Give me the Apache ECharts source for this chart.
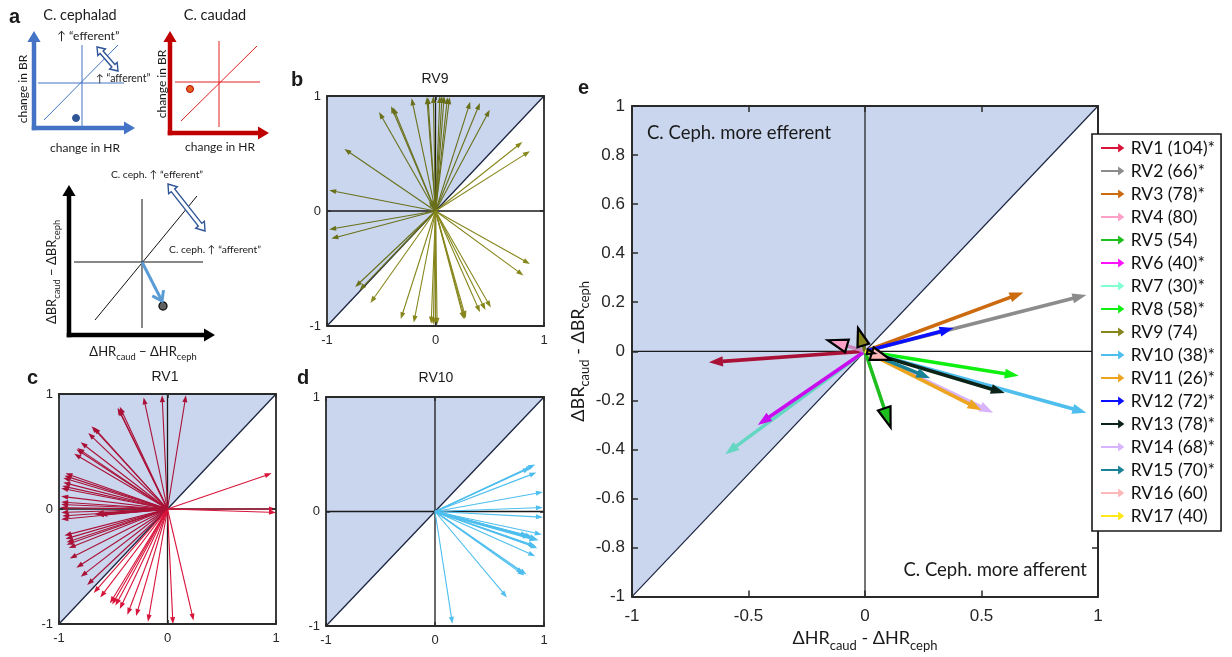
<!DOCTYPE html>
<html><head><meta charset="utf-8">
<script src="https://cdn.jsdelivr.net/npm/echarts@6/dist/echarts.min.js"></script>
<style>html,body{margin:0;padding:0;background:#fff}#c{width:1232px;height:657px}</style>
</head><body><div id="c"></div>
<script>
// ---------------- DATA ----------------
const rvNames = ['RV1 (104)*','RV2 (66)*','RV3 (78)*','RV4 (80)','RV5 (54)','RV6 (40)*','RV7 (30)*','RV8 (58)*','RV9 (74)','RV10 (38)*','RV11 (26)*','RV12 (72)*','RV13 (78)*','RV14 (68)*','RV15 (70)*','RV16 (60)','RV17 (40)'];
const rvMeanX = [-0.67, 0.95, 0.68, -0.16, 0.11, -0.46, -0.60, 0.66, -0.03, 0.95, 0.50, 0.38, 0.60, 0.55, 0.28, 0.11, 0.04];
const rvMeanY = [-0.045, 0.23, 0.24, 0.045, -0.31, -0.30, -0.42, -0.10, 0.095, -0.25, -0.24, 0.095, -0.17, -0.25, -0.11, -0.035, -0.008];
const rvSignificant = [1,1,1,0,0,1,1,1,0,1,1,1,1,1,1,0,0];

// individual trials (panel b: RV9, c: RV1, d: RV10)
const rv9Tips = [
 [-0.22,0.98],[-0.08,0.99],[-0.07,0.99],[-0.02,1.0],[0.04,1.0],[0.06,1.0],[0.08,1.0],[0.11,0.99],[0.13,0.99],
 [-0.41,0.91],[-0.39,0.90],[-0.52,0.86],[0.32,0.95],[0.41,0.94],[0.50,0.88],
 [-0.84,0.54],[-0.98,0.18],[0.80,0.60],[0.87,0.52],[-0.06,0.08],[-0.04,0.06],
 [-0.98,-0.16],[-0.96,-0.24],[-0.74,-0.66],[-0.70,-0.69],[-0.60,-0.80],
 [-0.32,-0.94],[-0.20,-0.97],[-0.04,-0.98],[-0.02,-0.99],[0.0,-0.99],[0.015,-0.99],
 [0.26,-0.94],[0.27,-0.94],[0.28,-0.93],[0.41,-0.88],[0.46,-0.86],[0.51,-0.84],
 [0.87,-0.46],[0.81,-0.56]
];
const rv1Tips = [
 [-0.22,0.97],[-0.05,0.99],[0.17,0.99],[-0.46,0.88],[-0.44,0.89],[-0.45,0.87],
 [-0.70,0.72],[-0.68,0.71],[-0.73,0.66],[-0.80,0.58],[-0.84,0.52],[-0.83,0.53],[-0.86,0.48],
 [-0.94,0.31],[-0.95,0.29],[-0.96,0.27],[-0.96,0.23],[-0.97,0.20],[-0.98,0.18],[-0.98,0.11],[-0.98,0.06],[-0.98,0.04],
 [-0.99,0.01],[-0.98,-0.03],[-0.97,-0.06],[-0.98,-0.09],[-0.62,-0.05],
 [-0.95,-0.23],[-0.94,-0.26],[-0.93,-0.31],[-0.93,-0.29],[-0.91,-0.34],[-0.90,-0.43],
 [-0.84,-0.51],[-0.80,-0.59],[-0.74,-0.66],[-0.68,-0.73],[-0.62,-0.77],
 [-0.53,-0.82],[-0.51,-0.83],[-0.48,-0.84],[-0.44,-0.87],[-0.37,-0.92],[-0.29,-0.93],[-0.18,-0.98],
 [0.05,-1.0],[0.24,-0.97],[0.96,0.31],[1.0,0.0],[1.0,-0.03]
];
const rv10Tips = [
 [0.92,0.41],[0.93,0.34],[0.87,0.38],[0.90,0.40],[0.99,0.17],[0.99,0.035],[0.99,-0.05],
 [0.98,-0.20],[0.89,-0.22],[0.87,-0.23],[0.85,-0.21],[0.93,-0.31],[0.94,-0.32],[0.92,-0.30],[0.92,-0.39],
 [0.84,-0.55],[0.81,-0.54],[0.82,-0.56],[0.66,-0.75],[0.16,-0.98]
];

// reference geometry of every panel (data space)
const shadeX = [-1,-1,1];
const shadeY = [-1,1,1];
const refLines = [[-1,0,1,0],[0,-1,0,1],[-1,-1,1,1]];

// schematic (panel a), in schematic units
const cephAxes = [[34,128,34,31],[34,128,135,128]];
const caudAxes = [[170,133,170,31],[170,133,269,133]];
const diffAxes = [[69,335,69,185],[69,335,215,335]];
const cephLines = [[82,45,82,127],[38,83,124,83],[44,120,118,45]];
const caudLines = [[219,41,219,127],[175,82,260,82],[181,121,257,46]];
const diffLines = [[142,199,142,328],[74,262,203,262],[95,320,197,196]];
const cephDot = [[76,118]];
const caudDot = [[190,89]];
const diffDot = [[163,306]];
const cephDouble = [[97,47,118,71]];
const diffDouble = [[168,184,205,231]];
const diffArrow = [[142,262,162,301]];

// ---------------- STYLE ----------------
const rvColors = ['#D8143A','#8C8C8C','#CC6A10','#FFA0C8','#1EBE1E','#FF10FF','#80FFD0','#10F010','#86861C','#4DBEEE','#EDA520','#0A10FF','#0C2418','#D8B4FF','#1A8296','#FFB8B8','#FFE81A'];
const drawOrder = [0,6,5,1,2,11,7,9,13,10,12,14,3,8,4,15,16];
const FRAME = '#2a2a2a';
const SHADE = '#C9D6EE';
const ARIAL = '"Liberation Sans", Arial, sans-serif';
const CAL = 'Lato, "Noto Sans", "DejaVu Sans", sans-serif';

function mulHex(c1,c2){const a=parseInt(c1.slice(1),16), b=parseInt(c2.slice(1),16);
  const ch=s=>Math.round(((a>>s)&255)*((b>>s)&255)/255);
  return 'rgb('+ch(16)+','+ch(8)+','+ch(0)+')';}
function geom(p0,p1){const dx=p1[0]-p0[0],dy=p1[1]-p0[1],L=Math.hypot(dx,dy)||1e-6;return {L,ux:dx/L,uy:dy/L,nx:-dy/L,ny:dx/L};}
function arrowShapes(p0,p1,o){
  const g=geom(p0,p1);
  const h=Math.min(o.head,g.L*(o.frac||1)), w=h*o.hw;
  const bx=p1[0]-g.ux*h, by=p1[1]-g.uy*h;
  const lc=o.lineColor||o.color;
  const ch=[];
  if(o.open){
    ch.push({type:'line',shape:{x1:p0[0],y1:p0[1],x2:p1[0],y2:p1[1]},style:{stroke:lc,lineWidth:o.lw,lineCap:'butt'}});
    ch.push({type:'polyline',shape:{points:[[bx+g.nx*w,by+g.ny*w],[p1[0],p1[1]],[bx-g.nx*w,by-g.ny*w]]},style:{stroke:o.color,lineWidth:o.lw,fill:null,lineJoin:'miter'}});
  } else {
    ch.push({type:'line',shape:{x1:p0[0],y1:p0[1],x2:bx+g.ux*0.6,y2:by+g.uy*0.6},style:{stroke:lc,lineWidth:o.lw,lineCap:o.cap||'butt'}});
    ch.push({type:'polygon',shape:{points:[[p1[0],p1[1]],[bx+g.nx*w,by+g.ny*w],[bx-g.nx*w,by-g.ny*w]]},
      style:o.outline?{fill:o.color,stroke:o.outline,lineWidth:o.outlineW,lineJoin:'miter'}:{fill:o.color}});
  }
  return {type:'group',children:ch};
}
// colour of an arrow drawn over the shaded half-plane (y > x) is multiplied with the shade
const tint = (col,vx,vy)=> vy>vx ? mulHex(col,SHADE) : col;

const C = echarts.init(document.getElementById('c'));

const grids = [
  {left:632, top:106, width:466, height:491},
  {left:327, top:96, width:217, height:230},
  {left:59, top:394, width:217, height:230},
  {left:326, top:397, width:218, height:229},
  {left:0, top:0, width:290, height:360}
];

const xAxis=[], yAxis=[];
const nameRich = {a:{fontSize:18,lineHeight:27,fontFamily:CAL,color:'#1a1a1a'},s:{fontSize:13,lineHeight:13,verticalAlign:'bottom',fontFamily:CAL,color:'#1a1a1a'}};
for(let g=0; g<4; g++){
  const big = g===0;
  const line = {show:true,onZero:false,lineStyle:{color:FRAME,width:big?2:1.8}};
  const tick = {show:true,inside:true,length:big?6:4,lineStyle:{color:FRAME,width:1.5}};
  const lab = {fontSize:big?17:13,color:'#262626',fontFamily:ARIAL};
  xAxis.push({gridIndex:g,type:'value',min:-1,max:1,interval:big?0.5:1,position:'bottom',z:5,axisLine:line,axisTick:tick,splitLine:{show:false},
    axisLabel:Object.assign({margin:big?11:8,formatter:v=>String(Math.round(v*10)/10)},lab),
    name: big?'{a|ΔHR}{s|caud}{a| - ΔHR}{s|ceph}':'', nameLocation:'middle', nameGap:22, nameTextStyle:{rich:nameRich}});
  xAxis.push({gridIndex:g,type:'value',min:-1,max:1,interval:big?0.5:1,position:'top',z:5,axisLine:line,axisTick:tick,splitLine:{show:false},axisLabel:{show:false}});
  yAxis.push({gridIndex:g,type:'value',min:-1,max:1,interval:big?0.2:1,position:'left',z:5,axisLine:line,axisTick:tick,splitLine:{show:false},
    axisLabel:Object.assign({margin:big?7:6,formatter:v=>String(Math.round(v*10)/10)},lab),
    name: big?'{a|ΔBR}{s|caud}{a| - ΔBR}{s|ceph}':'', nameLocation:'middle', nameGap:39, nameRotate:90, nameTextStyle:{rich:nameRich}});
  yAxis.push({gridIndex:g,type:'value',min:-1,max:1,interval:big?0.2:1,position:'right',z:5,axisLine:line,axisTick:tick,splitLine:{show:false},axisLabel:{show:false}});
}
xAxis.push({gridIndex:4,type:'value',min:0,max:290,show:false});
yAxis.push({gridIndex:4,type:'value',min:0,max:360,inverse:true,show:false});

const series=[];
// backgrounds + reference lines
for(let g=0; g<4; g++){
  series.push({type:'custom',name:'shade'+g,xAxisIndex:2*g,yAxisIndex:2*g,silent:true,z:1,data:[[0]],
    renderItem:(p,api)=>({type:'polygon',shape:{points:shadeX.map((x,i)=>api.coord([x,shadeY[i]]))},style:{fill:SHADE}})});
  series.push({type:'custom',name:'ref'+g,xAxisIndex:2*g,yAxisIndex:2*g,silent:true,z:1,data:refLines,
    renderItem:(p,api)=>{const a=api.coord([api.value(0),api.value(1)]),b=api.coord([api.value(2),api.value(3)]);
      return {type:'line',shape:{x1:a[0],y1:a[1],x2:b[0],y2:b[1]},style:{stroke:p.dataIndex===2?'#1c2540':'#1a1a1a',lineWidth:g===0?1.2:1.3}};}});
}
// small panels: trials + mean
const small = [{g:1,tips:rv9Tips,rv:8},{g:2,tips:rv1Tips,rv:0},{g:3,tips:rv10Tips,rv:9}];
small.forEach(s=>{
  const col = rvColors[s.rv];
  series.push({type:'custom',name:rvNames[s.rv]+' trials',xAxisIndex:2*s.g,yAxisIndex:2*s.g,silent:true,z:2,data:s.tips,
    renderItem:(p,api)=>{const vx=api.value(0),vy=api.value(1),c=tint(col,vx,vy);
      return arrowShapes(api.coord([0,0]),api.coord([vx,vy]),{color:c,lw:1.1,head:7,hw:0.36,frac:0.5});}});
  series.push({type:'custom',name:rvNames[s.rv]+' mean',xAxisIndex:2*s.g,yAxisIndex:2*s.g,silent:true,z:2,
    data:[[rvMeanX[s.rv],rvMeanY[s.rv]]],
    renderItem:(p,api)=>{const vx=api.value(0),vy=api.value(1),c=tint(col,vx,vy);
      return arrowShapes(api.coord([0,0]),api.coord([vx,vy]),{color:c,lw:2.6,head:9,hw:0.4,frac:0.5});}});
});
// panel e: means
drawOrder.forEach(i=>{
  const col = rvColors[i], sig = rvSignificant[i];
  series.push({type:'custom',name:rvNames[i],xAxisIndex:0,yAxisIndex:0,silent:true,z:3,itemStyle:{color:col},
    data:[[rvMeanX[i],rvMeanY[i]]],
    renderItem:(p,api)=>{const vx=api.value(0),vy=api.value(1),c=tint(col,vx,vy);
      return arrowShapes(api.coord([0,0]),api.coord([vx,vy]),
        sig?{color:c,lw:3.6,head:14,hw:0.36,frac:0.5}
           :{color:col,lineColor:c,lw:3.6,head:20,hw:0.33,frac:0.75,outline:'#000',outlineW:2.2});}});
});
// panel a schematic
function schem(name,data,kind,o){
  series.push({type:'custom',name,xAxisIndex:8,yAxisIndex:8,silent:true,z:2,data,
    renderItem:(p,api)=>{
      const a=api.coord([api.value(0),api.value(1)]);
      if(kind==='dot') return {type:'circle',shape:{cx:a[0],cy:a[1],r:o.r},style:{fill:o.fill,stroke:o.stroke,lineWidth:o.sw}};
      const b=api.coord([api.value(2),api.value(3)]);
      if(kind==='line') return {type:'line',shape:{x1:a[0],y1:a[1],x2:b[0],y2:b[1]},style:{stroke:o.color,lineWidth:o.lw}};
      if(kind==='arrow') return arrowShapes(a,b,o);
      if(kind==='double'){
        const g=geom(a,b),L=g.L,s=o.s,hw=o.hw,hl=o.hl;
        const P=(t,k)=>[a[0]+g.ux*t+g.nx*k,a[1]+g.uy*t+g.ny*k];
        return {type:'polygon',shape:{points:[P(0,0),P(hl,hw),P(hl,s),P(L-hl,s),P(L-hl,hw),P(L,0),P(L-hl,-hw),P(L-hl,-s),P(hl,-s),P(hl,-hw)]},
          style:{fill:'#fff',stroke:o.color,lineWidth:o.lw,lineJoin:'miter'}};
      }
    }});
}
schem('cephLines',cephLines,'line',{color:'#4472C4',lw:1});
schem('caudLines',caudLines,'line',{color:'#E02020',lw:1});
schem('diffLines',diffLines,'line',{color:'#111',lw:1});
schem('cephAxes',cephAxes,'arrow',{color:'#4472C4',lw:4.5,head:11,hw:0.6,cap:'square'});
schem('caudAxes',caudAxes,'arrow',{color:'#C00000',lw:4.5,head:11,hw:0.6,cap:'square'});
schem('diffAxes',diffAxes,'arrow',{color:'#000',lw:4.5,head:11,hw:0.6,cap:'square'});
schem('cephDot',cephDot,'dot',{r:3.5,fill:'#2F5597',stroke:'#2F5597',sw:1});
schem('caudDot',caudDot,'dot',{r:3.5,fill:'#E0641E',stroke:'#C00000',sw:1});
schem('diffDot',diffDot,'dot',{r:4,fill:'#606060',stroke:'#111',sw:1.3});
schem('cephDouble',cephDouble,'double',{color:'#2F5597',lw:1.4,s:2,hw:5,hl:7});
schem('diffDouble',diffDouble,'double',{color:'#2F5597',lw:1.4,s:2.2,hw:5.5,hl:8});
schem('diffArrow',diffArrow,'arrow',{color:'#5B9BD5',lw:3,head:9,hw:0.7,open:true});

// ---------------- TEXT ----------------
function T(text,x,y,size,o){o=o||{};
  return {type:'text',x,y,rotation:o.rot||0,z:20,silent:true,
    style:{text,fontSize:size,fontFamily:o.font||CAL,fontWeight:o.bold?'bold':'normal',fill:o.color||'#1a1a1a',
      align:o.align||'center',verticalAlign:'middle',rich:o.rich}};}
const richSub = f=>({a:{fontSize:f,lineHeight:f*1.5,fontFamily:CAL,fill:'#1a1a1a'},s:{fontSize:f*0.72,lineHeight:f*0.72,verticalAlign:'bottom',fontFamily:CAL,fill:'#1a1a1a'}});
const graphic = [
  T('a',9,17,20,{bold:true,align:'left',font:ARIAL}),
  T('b',291,80,20,{bold:true,align:'left',font:ARIAL}),
  T('c',27,378,20,{bold:true,align:'left',font:ARIAL}),
  T('d',297,378,20,{bold:true,align:'left',font:ARIAL}),
  T('e',578,88,20,{bold:true,align:'left',font:ARIAL}),
  T('RV9',435,79,14,{font:ARIAL}),
  T('RV1',165,377,14,{font:ARIAL}),
  T('RV10',436,378,14,{font:ARIAL}),
  T('C. cephalad',80,15,14.5),
  T('C. caudad',215,15,14.5),
  T('↑ “efferent”',57,36,12,{align:'left'}),
  T('↑ “afferent”',96,79,10.5,{align:'left'}),
  T('change in BR',23,89,12,{rot:Math.PI/2}),
  T('change in HR',85,148,12),
  T('change in BR',162,84,12,{rot:Math.PI/2}),
  T('change in HR',220,147,12),
  T('C. ceph. ↑ “efferent”',157,175,10.3),
  T('C. ceph. ↑ “afferent”',215,250,10.3),
  T('{a|ΔBR}{s|caud}{a| − ΔBR}{s|ceph}',52,272,13,{rot:Math.PI/2,rich:richSub(13)}),
  T('{a|ΔHR}{s|caud}{a| − ΔHR}{s|ceph}',143,352,13,{rich:richSub(13)}),
  T('C. Ceph. more efferent',647,133,18.5,{align:'left'}),
  T('C. Ceph. more afferent',1087,570,18.5,{align:'right'})
];

C.setOption({
  animation:false,
  grid:grids,
  xAxis, yAxis, series, graphic,
  legend:{data:rvNames,orient:'vertical',left:1092,top:134,padding:[5,6,6,9],itemGap:5,itemWidth:26,itemHeight:9,
    icon:'path://M0,4 L19,4 L19,0 L26,5 L19,10 L19,6 L0,6 Z',selectedMode:false,
    backgroundColor:'#fff',borderColor:'#1a1a1a',borderWidth:1.6,borderRadius:0,z:10,
    textStyle:{fontSize:17.5,lineHeight:16,fontFamily:CAL,color:'#111'}}
});
</script></body></html>
